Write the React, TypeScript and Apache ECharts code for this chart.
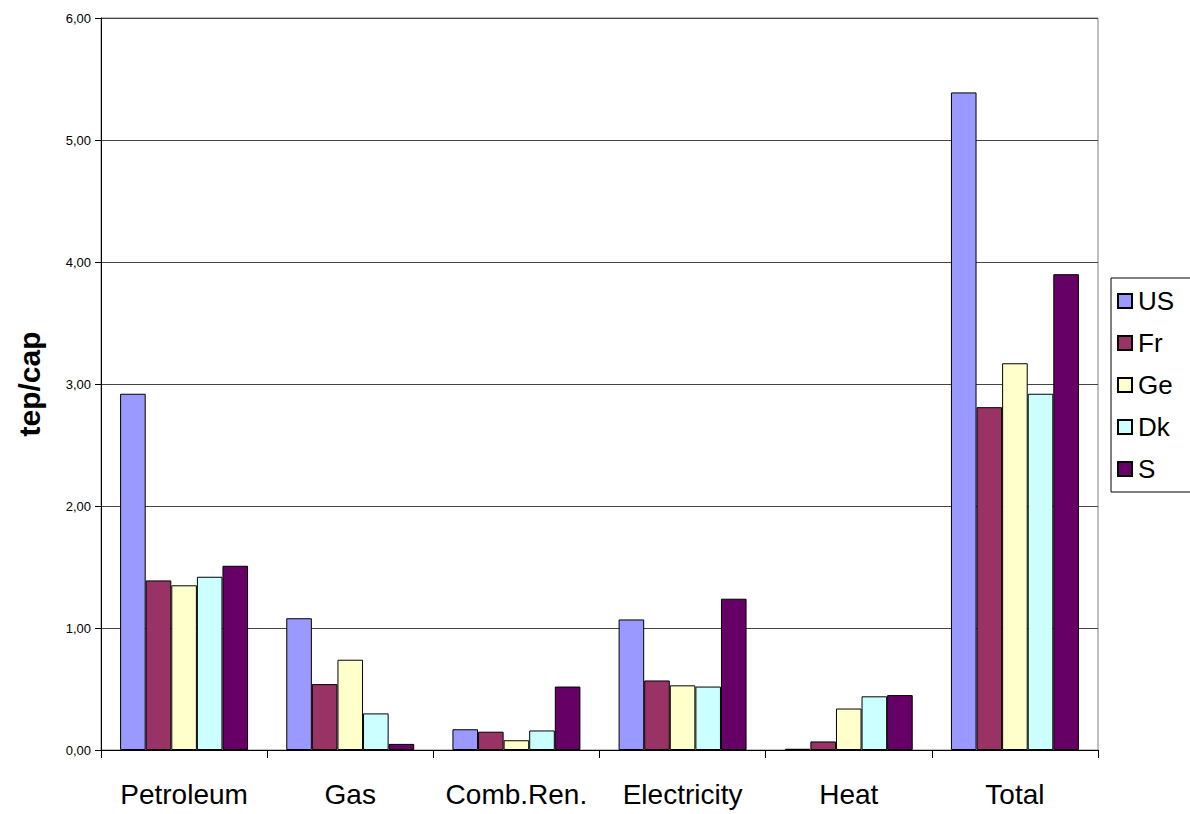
import React, { useEffect, useRef } from "react";
import * as echarts from "echarts";

const categories = ["Petroleum", "Gas", "Comb.Ren.", "Electricity", "Heat", "Total"];
const seriesNames = ["US", "Fr", "Ge", "Dk", "S"];
const usValues = [2.92, 1.08, 0.17, 1.07, 0.01, 5.39];
const frValues = [1.39, 0.54, 0.15, 0.57, 0.07, 2.81];
const geValues = [1.35, 0.74, 0.08, 0.53, 0.34, 3.17];
const dkValues = [1.42, 0.3, 0.16, 0.52, 0.44, 2.92];
const sValues = [1.51, 0.05, 0.52, 1.24, 0.45, 3.9];
const colors = ["#9999FF", "#993366", "#FFFFCC", "#CCFFFF", "#660066"];

export default function App() {
  const ref = useRef<HTMLDivElement>(null);
  useEffect(() => {
    if (!ref.current) return;
    const chart = echarts.init(ref.current, null, { renderer: "svg" });
    const values = [usValues, frValues, geValues, dkValues, sValues];
    chart.setOption({
      animation: false,
      backgroundColor: "#fff",
      textStyle: { fontFamily: "Liberation Sans, Arial, sans-serif" },
      grid: {
        left: 101,
        top: 18,
        right: 92,
        bottom: 64,
        show: true,
        borderColor: "#808080",
        borderWidth: 1,
      },
      legend: {
        orient: "vertical",
        left: 1111,
        top: 278,
        itemWidth: 14,
        itemHeight: 14,
        itemGap: 16,
        padding: [10, 40, 10, 6],
        borderColor: "#000",
        borderWidth: 1,
        backgroundColor: "#fff",
        icon: "rect",
        textStyle: { fontSize: 26, color: "#000", fontFamily: "Liberation Sans, Arial, sans-serif", padding: [0, 0, 0, 1] },
        data: seriesNames,
      },
      xAxis: {
        type: "category",
        data: categories,
        axisLine: { lineStyle: { color: "#000", width: 1 } },
        axisTick: { show: true, length: 8, interval: 0, lineStyle: { color: "#000" } },
        axisLabel: { fontSize: 28, color: "#000", margin: 30, interval: 0 },
      },
      yAxis: {
        type: "value",
        min: 0,
        max: 6,
        interval: 1,
        name: "tep/cap",
        nameLocation: "middle",
        nameGap: 57,
        nameTextStyle: { fontSize: 30, fontWeight: "bold", color: "#000" },
        axisLine: { show: true, lineStyle: { color: "#000", width: 1 } },
        axisTick: { show: true, length: 6, lineStyle: { color: "#000" } },
        axisLabel: {
          fontSize: 13,
          color: "#000",
          margin: 10,
          formatter: (v: number) => v.toFixed(2).replace(".", ","),
        },
        splitLine: { show: true, lineStyle: { color: "#444", width: 1 } },
      },
      series: seriesNames.map((name, i) => ({
        name,
        type: "bar",
        data: values[i],
        barGap: "0%",
        barCategoryGap: "23%",
        itemStyle: { color: colors[i], borderColor: "#000", borderWidth: 1 },
      })),
    });
    return () => chart.dispose();
  }, []);
  return (
    <div
      ref={ref}
      style={{ position: "absolute", left: 0, top: 0, width: 1190, height: 814 }}
    />
  );
}
